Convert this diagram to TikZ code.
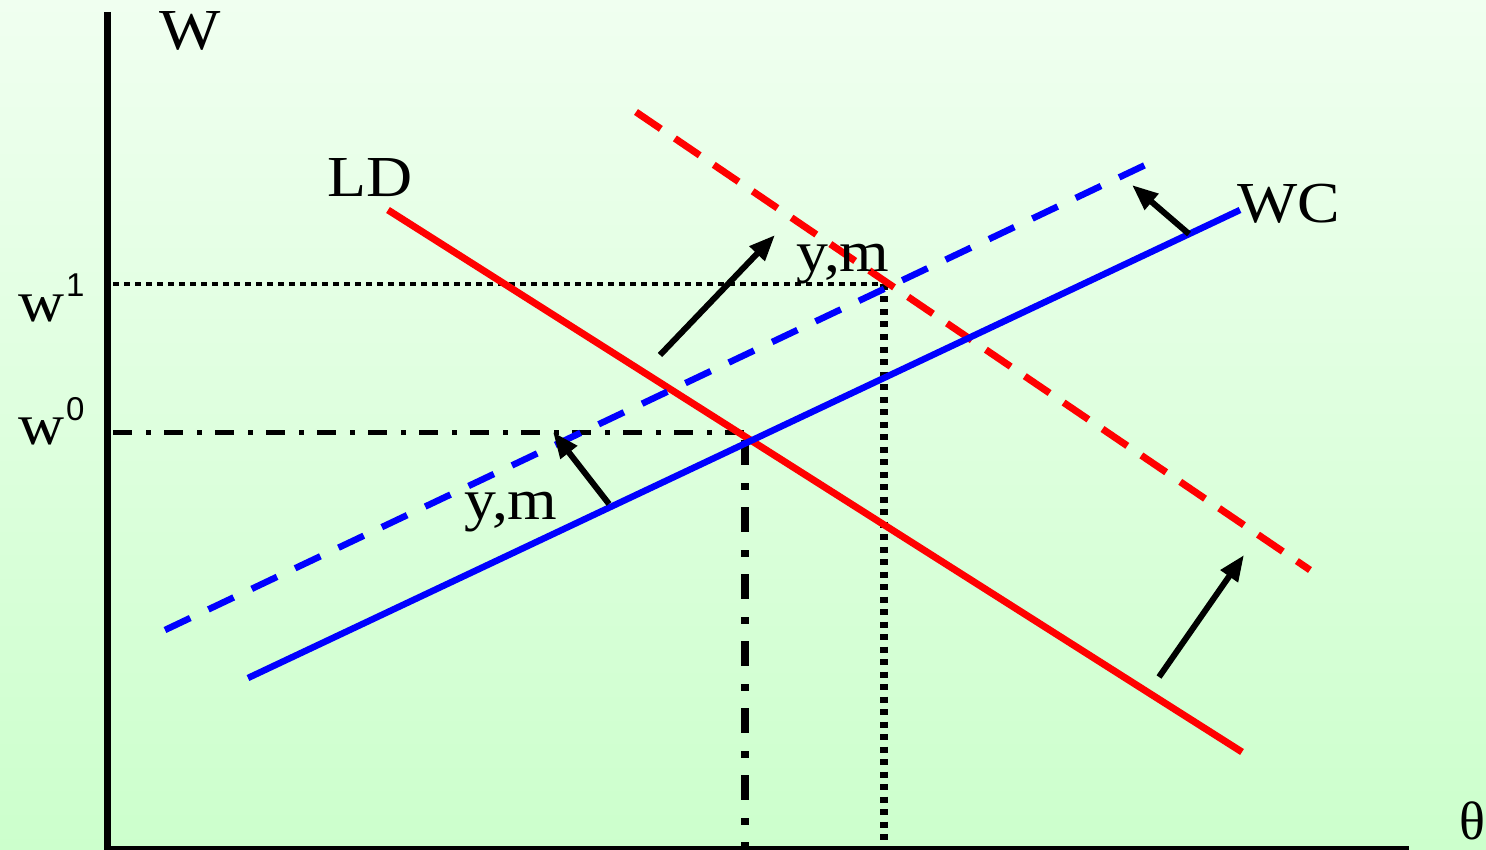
\documentclass[tikz,border=0pt]{standalone}
\usepackage{graphicx}
\usepackage{fontspec}
\setmainfont{Liberation Serif}
\newfontfamily\sansf{Liberation Sans}
\usetikzlibrary{arrows.meta}
\definecolor{bgtop}{RGB}{240,255,240}
\definecolor{bgbot}{RGB}{204,255,204}
\definecolor{ldred}{RGB}{255,0,0}
\definecolor{wcblue}{RGB}{0,0,255}
\tikzset{
  lbl/.style={font=\fontsize{58}{60}\selectfont, inner sep=0pt, anchor=base west},
  supl/.style={font=\sansf\fontsize{33}{36}\selectfont, inner sep=0pt, anchor=base west},
  axisline/.style={line width=7pt, black},
  ldsolid/.style={ldred, line width=7pt},
  lddash/.style={ldred, line width=7pt, dash pattern=on 30pt off 17pt},
  wcsolid/.style={wcblue, line width=6.5pt},
  wcdash/.style={wcblue, line width=6.5pt, dash pattern=on 28pt off 20pt},
  shiftarrow/.style={black, line width=6pt, -{Triangle[length=26pt,width=20pt]}},
  dotH/.style={black, line width=4pt, dash pattern=on 6pt off 5pt},
  dotV/.style={black, line width=8pt, dash pattern=on 6pt off 6.5pt},
  dashdotH/.style={black, line width=5pt, dash pattern=on 19pt off 14pt on 5pt off 13pt},
  dashdotV/.style={black, line width=8pt, dash pattern=on 25pt off 18pt on 7pt off 17pt},
}
\begin{document}
\begin{tikzpicture}[x=1pt,y=-1pt]
\useasboundingbox (0,0) rectangle (1486,850);
\shade[top color=bgtop, bottom color=bgbot] (0,0) rectangle (1486,850);

% coordinates
\coordinate (ld1) at (388,210);
\coordinate (ld2) at (1242,752);
\coordinate (ldd1) at (636,112);
\coordinate (ldd2) at (1310,570);
\coordinate (wc1) at (248,678);
\coordinate (wc2) at (1240,210);
\coordinate (wcd1) at (165,630);
\coordinate (wcd2) at (1160,158);
\coordinate (e0) at (745,432);
\coordinate (e1) at (884,284);

% reference lines
\draw[dotH] (113,284) -- (e1);
\draw[dotV] (e1) -- (884,846);
\draw[dashdotH] (113,432) -- (e0);
\draw[dashdotV] (745,440) -- (745,846);

% curves
\draw[ldsolid] (ld1) -- (ld2);
\draw[lddash] (ldd1) -- (ldd2);
\draw[wcsolid] (wc1) -- (wc2);
\draw[wcdash] (wcd1) -- (wcd2);

% shift arrows
\coordinate (a1s) at (609,504); \coordinate (a1e) at (553,432);
\coordinate (a2s) at (660,355); \coordinate (a2e) at (775,235);
\coordinate (a3s) at (1189,234); \coordinate (a3e) at (1132,185);
\coordinate (a4s) at (1159,677); \coordinate (a4e) at (1244,555);
\draw[shiftarrow] (a1s) -- (a1e);
\draw[shiftarrow] (a2s) -- (a2e);
\draw[shiftarrow] (a3s) -- (a3e);
\draw[shiftarrow] (a4s) -- (a4e);

% axes
\draw[axisline] (107,12) -- (107,850);
\draw[black, line width=4pt] (104,848) -- (1409,848);

% labels
\node[lbl] (W) at (159,50) {\scalebox{1.12}[1]{W}};
\node[lbl] (LD) at (327,197) {\scalebox{1.1}[1]{LD}};
\node[lbl] (WC) at (1237,223) {\scalebox{1.1}[1]{WC}};
\node[lbl] (ym1) at (464,519) {\scalebox{1.1}[1]{y,m}};
\node[lbl] (ym2) at (796,272) {\scalebox{1.1}[1]{y,m}};
\node[lbl] (w1) at (18,322) {\scalebox{1.1}[1]{w}};
\node[supl] (s1) at (66,297) {1};
\node[lbl] (w0) at (18,444) {\scalebox{1.1}[1]{w}};
\node[supl] (s0) at (66,420) {0};
\node[font=\fontsize{54}{56}\selectfont, inner sep=0pt, anchor=base west] (th) at (1459,839) {θ};
\end{tikzpicture}
\end{document}
